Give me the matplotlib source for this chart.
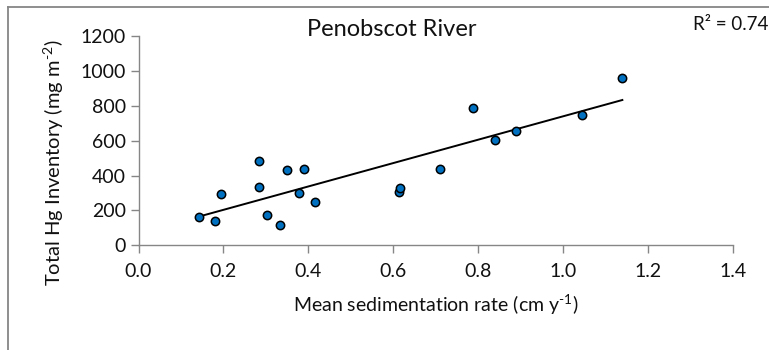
import numpy as np
import matplotlib
matplotlib.use("Agg")
import matplotlib.pyplot as plt
from matplotlib.lines import Line2D

plt.rcParams['font.family'] = ['Lato', 'DejaVu Sans']
plt.rcParams['mathtext.fontset'] = 'custom'
plt.rcParams['mathtext.rm'] = 'Lato'
plt.rcParams['mathtext.it'] = 'Lato:italic'

sed_rate = [0.143, 0.180, 0.194, 0.283, 0.283, 0.302, 0.333, 0.349, 0.379, 0.389,
            0.416, 0.614, 0.617, 0.710, 0.787, 0.839, 0.890, 1.046, 1.140]
hg_inv = [164, 141, 294, 482, 336, 175, 115, 430, 298, 439,
          247, 304, 327, 439, 789, 604, 655, 747, 959]
x_ticks = [0.0, 0.2, 0.4, 0.6, 0.8, 1.0, 1.2, 1.4]
y_ticks = [0, 200, 400, 600, 800, 1000, 1200]

x = np.array(sed_rate)
y = np.array(hg_inv)
slope, intercept = np.polyfit(x, y, 1)

fig = plt.figure(figsize=(7.69, 3.5), dpi=100)
ax = fig.add_axes([138.5/769, 1-245.3/350, (732.7-138.5)/769, (245.3-36)/350])

gray = '#868686'
xl = np.array([x.min(), x.max()])
ax.plot(xl, slope*xl + intercept, color='black', lw=1.4, zorder=2)
ax.scatter(x, y, s=36, color='#0070C0', edgecolor='black', linewidths=1.1, zorder=3)

ax.set_xlim(0, 1.4)
ax.set_ylim(0, 1200)
ax.set_xticks(x_ticks)
ax.set_xticklabels([f'{v:.1f}' for v in x_ticks])
ax.set_yticks(y_ticks)
ax.set_yticklabels([str(v) for v in y_ticks])
for s in ['top', 'right']:
    ax.spines[s].set_visible(False)
for s in ['left', 'bottom']:
    ax.spines[s].set_color(gray)
    ax.spines[s].set_linewidth(1.0)
ax.tick_params(axis='both', colors=gray, labelcolor='#111111', labelsize=14, length=6, width=1.0)
ax.tick_params(axis='x', pad=7)
ax.tick_params(axis='y', pad=3)

ax.set_xlabel('Mean sedimentation rate (cm y$^{\\mathregular{\u20101}}$)',
              fontsize=14, labelpad=9, color='#111111')
ax.set_ylabel('Total Hg Inventory (mg m$^{\\mathregular{\u20102}}$)', fontsize=14.5, color='#111111')
ax.yaxis.set_label_coords((66 - 138.5) / 594.2, (245.3 - 163) / 209.3)

fig.text(392/769, 1-29/350, 'Penobscot River', ha='center', va='center', fontsize=17, color='#111111')
fig.text(768/769, 1-25/350, 'R² = 0.74', ha='right', va='center', fontsize=13.5, color='#111111')

# chart border (left and top only visible)
fig.add_artist(Line2D([7.5/769, 7.5/769], [0, 1-7/350], transform=fig.transFigure, color=gray, lw=1.3))
fig.add_artist(Line2D([7.5/769, 1], [1-7/350, 1-7/350], transform=fig.transFigure, color=gray, lw=1.3))

fig.savefig('out.png', dpi=100)
